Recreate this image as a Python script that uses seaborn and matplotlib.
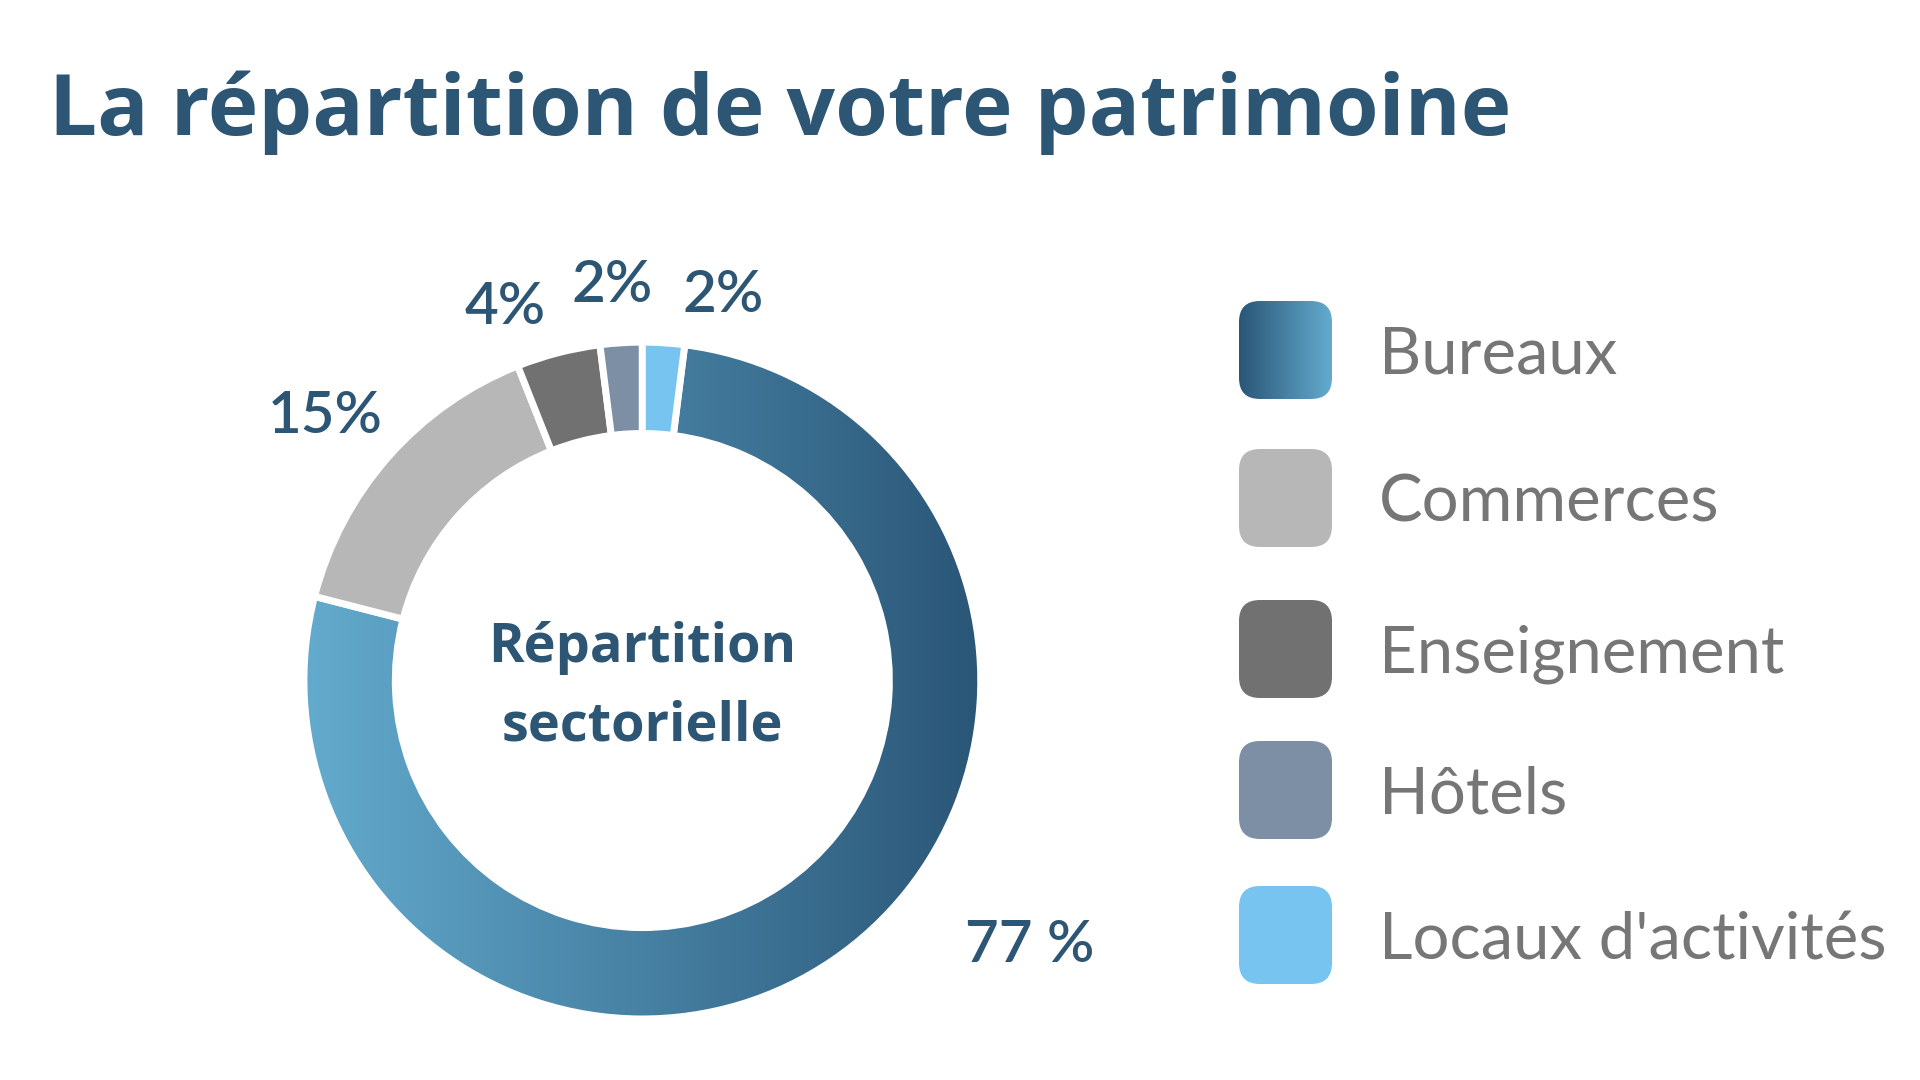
import numpy as np
import matplotlib.pyplot as plt
import seaborn as sns
from matplotlib.colors import LinearSegmentedColormap
from matplotlib.patches import FancyBboxPatch

# ── Data ───────────────────────────────────────────────
CATEGORIES = ['Bureaux', 'Commerces', 'Enseignement', 'Hôtels', "Locaux d'activités"]
SHARES     = [77, 15, 4, 2, 2]
LABELS     = ['77 %', '15%', '4%', '2%', '2%']
COLORS     = ['#3d7fa3', '#b7b7b7', '#717171', '#7d8fa5', '#76c4ef']
GRAD       = ['#63abce', '#2a5677']          # Bureaux gradient, left -> right

TITLE  = 'La répartition de votre patrimoine'
CENTER = 'Répartition\nsectorielle'

# label anchor points (pie data coords, radius = 1)
LABEL_XY = [(1.146, -0.782), (-0.937, 0.779), (-0.406, 1.101),
            (-0.09, 1.167), (0.239, 1.137)]

NAVY  = '#2d5574'
GREY  = '#767676'

sns.set_theme(style='white')
plt.rcParams['font.family'] = ['Lato', 'DejaVu Sans']

fig = plt.figure(figsize=(19.2, 10.8), dpi=100)
fig.patch.set_facecolor('white')

# ── Title ──────────────────────────────────────────────
fig.text(49 / 1920, 1 - 135 / 1080, TITLE, ha='left', va='baseline',
         fontsize=61.5, fontweight='bold', color=NAVY,
         family=['Open Sans', 'DejaVu Sans'])

# ── Donut ──────────────────────────────────────────────
ax = fig.add_axes([0.1583, 0.0565, 0.3525, 0.6267])
start = 90 - 360 * SHARES[-1] / sum(SHARES)
wedges, _ = ax.pie(SHARES, colors=COLORS, startangle=start, counterclock=False,
                   radius=1, wedgeprops=dict(width=0.27, edgecolor='white', linewidth=5))

# horizontal gradient on the Bureaux wedge
cmap = LinearSegmentedColormap.from_list('bureaux', GRAD)
grad = np.linspace(0, 1, 256).reshape(1, -1)
im = ax.imshow(grad, cmap=cmap, extent=[-1, 1, -1, 1], aspect='auto', zorder=0)
im.set_clip_path(wedges[0])
wedges[0].set_facecolor('none')

for (x, y), lab in zip(LABEL_XY, LABELS):
    ax.text(x, y, lab, ha='center', va='center', fontsize=42,
            fontweight='semibold', color=NAVY)

ax.text(0, -0.02, CENTER, ha='center', va='center', fontsize=39,
        fontweight='bold', color=NAVY, linespacing=1.6,
        family=['Open Sans', 'DejaVu Sans'])

ax.set_xlim(-1, 1)
ax.set_ylim(-1, 1)
ax.set_aspect('equal')
ax.axis('off')

# ── Legend (pixel units) ───────────────────────────────
lx0, ly_top, lw, lh = 1239, 280, 681, 728
row_y = [70, 218, 369, 510, 655]                 # row centres from top, px
axl = fig.add_axes([lx0 / 1920, 1 - (ly_top + lh) / 1080, lw / 1920, lh / 1080])
sw, sh, rad = 93, 98, 21
for i, (cat, col) in enumerate(zip(CATEGORIES, COLORS)):
    yc = lh - row_y[i]
    box = FancyBboxPatch((rad, yc - sh / 2 + rad), sw - 2 * rad, sh - 2 * rad,
                         boxstyle=f'round,pad={rad}', facecolor=col,
                         edgecolor='none', zorder=2)
    axl.add_patch(box)
    if i == 0:
        box.set_facecolor('none')
        g = axl.imshow(grad, cmap=LinearSegmentedColormap.from_list('sw', GRAD[::-1]),
                       extent=[0, sw, yc - sh / 2, yc + sh / 2], aspect='auto', zorder=1)
        g.set_clip_path(box)
    axl.text(140, yc, cat, ha='left', va='center_baseline', fontsize=47,
             fontweight='normal', color=GREY)

axl.set_xlim(0, lw)
axl.set_ylim(0, lh)
axl.axis('off')

plt.savefig('out.png', dpi=100, facecolor='white')
